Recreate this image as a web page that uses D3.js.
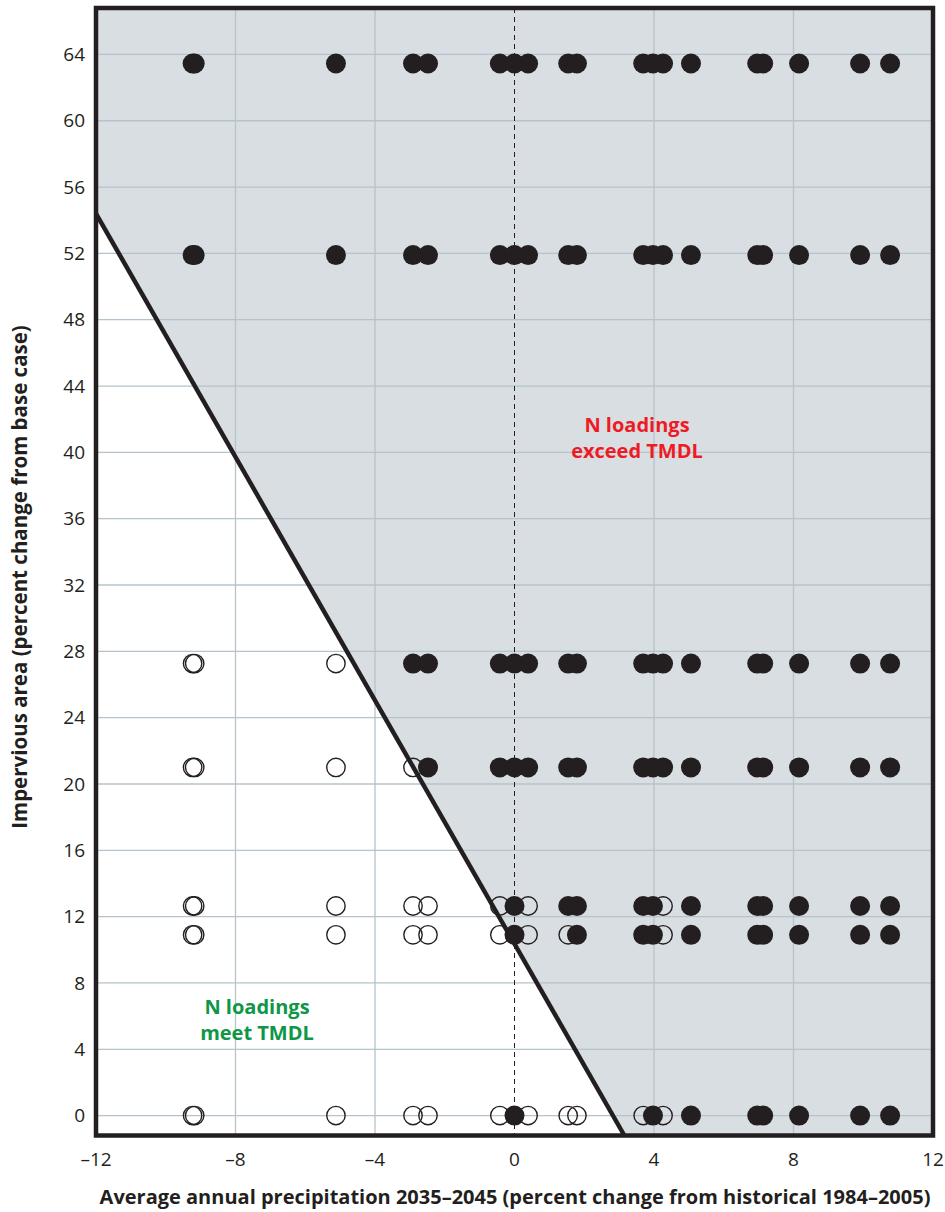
<!DOCTYPE html>
<html><head><meta charset="utf-8">
<script src="https://cdn.jsdelivr.net/npm/d3@7"></script>
<style>body{margin:0;background:#fff}svg text{font-family:"Open Sans","Noto Sans",sans-serif}</style>
</head><body>
<svg id="c" width="945" height="1212"></svg>
<script>
// Data
const precipValues = [-9.23, -9.17, -5.12, -2.91, -2.48, -0.42, 0, 0.39, 1.54, 1.79, 3.69, 3.97, 4.26, 5.06, 6.96, 7.13, 8.16, 9.91, 10.77];
const imperviousLevels = [63.45, 51.9, 27.26, 21.0, 12.64, 10.9, 0];
// status per level (1 = filled / exceeds, 0 = open / meets), aligned with precipValues
const statusRows = [
  [1,1,1,1,1,1,1,1,1,1,1,1,1,1,1,1,1,1,1],
  [1,1,1,1,1,1,1,1,1,1,1,1,1,1,1,1,1,1,1],
  [0,0,0,1,1,1,1,1,1,1,1,1,1,1,1,1,1,1,1],
  [0,0,0,0,1,1,1,1,1,1,1,1,1,1,1,1,1,1,1],
  [0,0,0,0,0,0,1,0,1,1,1,1,0,1,1,1,1,1,1],
  [0,0,0,0,0,0,1,0,0,1,1,1,0,1,1,1,1,1,1],
  [0,0,0,0,0,0,1,0,0,0,0,1,0,1,1,1,1,1,1]
];
const xTicks = [-12, -8, -4, 0, 4, 8, 12];
const yTicks = [0, 4, 8, 12, 16, 20, 24, 28, 32, 36, 40, 44, 48, 52, 56, 60, 64];
const boundaryLine = [[-12, 54.4], [3.15, -1.2]];
const xDomain = [-12, 12];
const yDomain = [-1.2, 66.8];

const svg = d3.select('#c');
const L = 96, R = 933, T = 8, B = 1135.5;
const x = d3.scaleLinear().domain(xDomain).range([L, R]);
const y = d3.scaleLinear().domain(yDomain).range([B, T]);
const fmt = d => (d < 0 ? '\u2013' + Math.abs(d) : '' + d);

// shaded region
const poly = [[xDomain[0], yDomain[1]], [xDomain[1], yDomain[1]], [xDomain[1], yDomain[0]], boundaryLine[1], boundaryLine[0]];
svg.append('path').attr('d', 'M' + poly.map(p => x(p[0]) + ',' + y(p[1])).join('L') + 'Z')
  .attr('fill', '#d9dee3');

// grid
const g = svg.append('g');
g.selectAll('.gx').data(xTicks.slice(1, -1).filter(d => d !== 0)).join('line')
  .attr('x1', d => x(d)).attr('x2', d => x(d)).attr('y1', T).attr('y2', B)
  .attr('stroke', '#b4c3cc').attr('stroke-width', 1.3);
g.selectAll('.gy').data(yTicks).join('line')
  .attr('x1', L).attr('x2', R).attr('y1', d => y(d)).attr('y2', d => y(d))
  .attr('stroke', '#b4c3cc').attr('stroke-width', 1.3);
// dashed zero line
svg.append('line').attr('x1', x(0)).attr('x2', x(0)).attr('y1', T).attr('y2', B)
  .attr('stroke', '#231f20').attr('stroke-width', 1).attr('stroke-dasharray', '5,4');

// boundary
svg.append('line').attr('x1', x(boundaryLine[0][0])).attr('y1', y(boundaryLine[0][1]))
  .attr('x2', x(boundaryLine[1][0])).attr('y2', y(boundaryLine[1][1]))
  .attr('stroke', '#231f20').attr('stroke-width', 4.5);

// points
const pts = [];
imperviousLevels.forEach((lv, i) => precipValues.forEach((p, j) => pts.push({x: p, y: lv, f: statusRows[i][j]})));
svg.append('g').selectAll('circle').data(pts.filter(d => !d.f)).join('circle')
  .attr('cx', d => x(d.x)).attr('cy', d => y(d.y)).attr('r', 9.2)
  .attr('fill', 'none').attr('stroke', '#231f20').attr('stroke-width', 1.4);
svg.append('g').selectAll('circle').data(pts.filter(d => d.f)).join('circle')
  .attr('cx', d => x(d.x)).attr('cy', d => y(d.y)).attr('r', 10)
  .attr('fill', '#231f20');

// frame
svg.append('rect').attr('x', L).attr('y', T).attr('width', R - L).attr('height', B - T)
  .attr('fill', 'none').attr('stroke', '#231f20').attr('stroke-width', 4.5);

// axes labels
svg.append('g').selectAll('text').data(yTicks).join('text')
  .attr('x', 85).attr('y', d => y(d)).attr('dy', '0.35em').attr('text-anchor', 'end')
  .attr('font-size', 19).attr('fill', '#231f20').text(fmt);
svg.append('g').selectAll('text').data(xTicks).join('text')
  .attr('x', d => x(d)).attr('y', 1159).attr('dy', '0.35em').attr('text-anchor', 'middle')
  .attr('font-size', 19).attr('fill', '#231f20').text(fmt);

svg.append('text').attr('x', 515).attr('y', 1197).attr('dy', '0.35em').attr('text-anchor', 'middle')
  .attr('font-size', 20).attr('font-weight', 'bold').attr('fill', '#231f20')
  .text('Average annual precipitation 2035\u20132045 (percent change from historical 1984\u20132005)');
svg.append('text').attr('transform', 'translate(20,577) rotate(-90)').attr('dy', '0.35em').attr('text-anchor', 'middle')
  .attr('font-size', 20.5).attr('font-weight', 'bold').attr('fill', '#231f20')
  .text('Impervious area (percent change from base case)');

// annotations
const ann = (cx, y1, lines, col) => lines.forEach((t, i) => svg.append('text')
  .attr('x', cx).attr('y', y1 + i * 26).attr('text-anchor', 'middle').attr('dy', '0.35em')
  .attr('font-size', 20).attr('font-weight', 'bold').attr('fill', col).text(t));
ann(637, 425, ['N loadings', 'exceed TMDL'], '#ed1c24');
ann(257, 1007, ['N loadings', 'meet TMDL'], '#0f9646');
</script>
</body></html>
